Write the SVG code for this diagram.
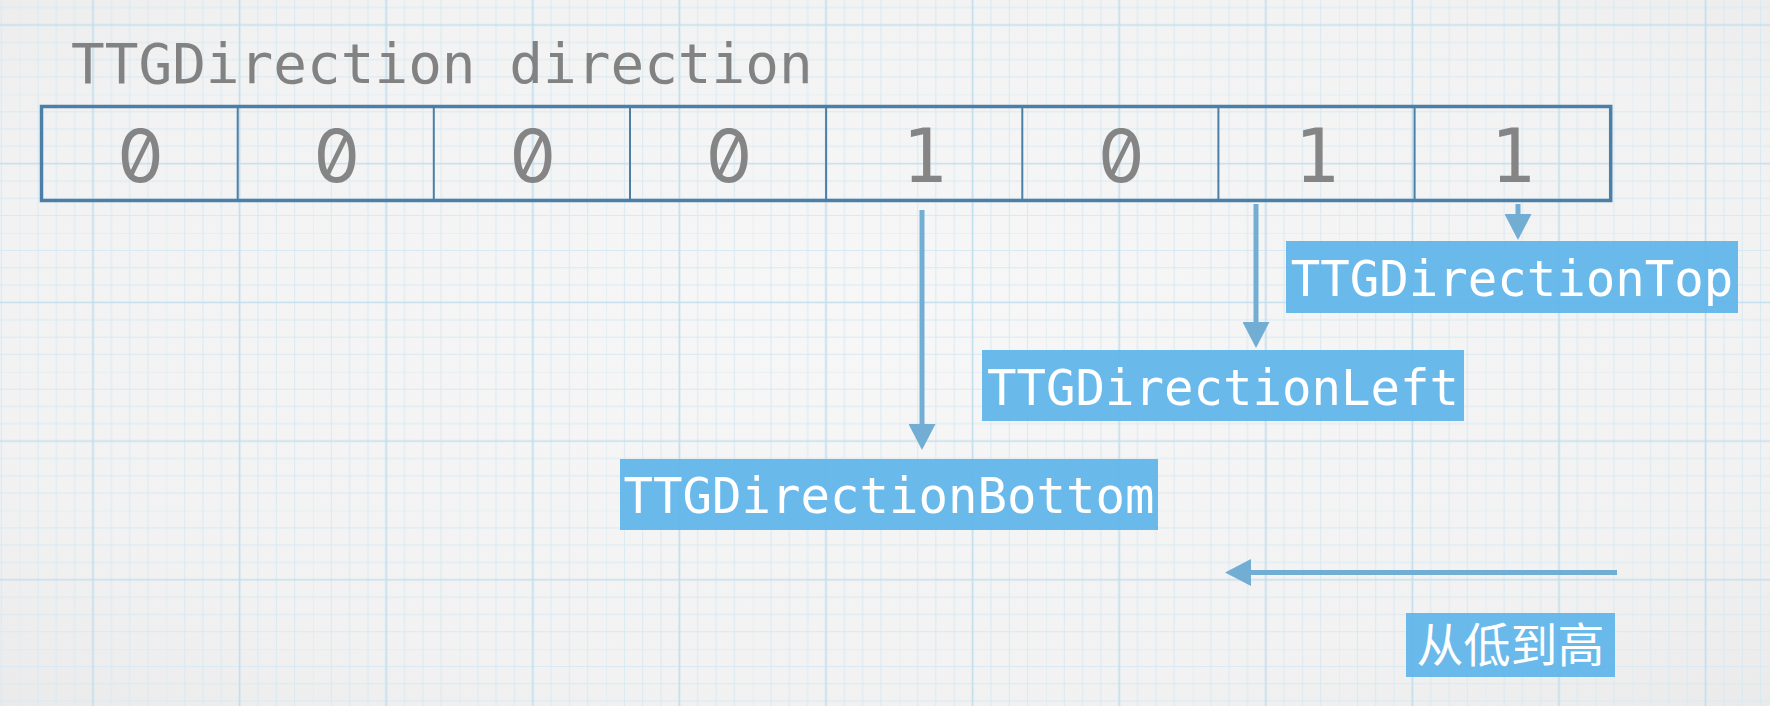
<svg xmlns="http://www.w3.org/2000/svg" width="1770" height="706" viewBox="0 0 1770 706">
  <defs>
    <radialGradient id="paper" cx="50%" cy="45%" r="75%">
      <stop offset="0" stop-color="#f7f7f7"/>
      <stop offset="0.7" stop-color="#f2f2f2"/>
      <stop offset="1" stop-color="#eaeaea"/>
    </radialGradient>
    <pattern id="grid" patternUnits="userSpaceOnUse" x="19.7" y="-44.35" width="146.6" height="138.7">
      <g stroke="#d8e9f2" stroke-width="1">
        <line x1="0" y1="0" x2="0" y2="138.7"/>
        <line x1="18.325" y1="0" x2="18.325" y2="138.7"/>
        <line x1="36.65" y1="0" x2="36.65" y2="138.7"/>
        <line x1="54.975" y1="0" x2="54.975" y2="138.7"/>
        <line x1="91.625" y1="0" x2="91.625" y2="138.7"/>
        <line x1="109.95" y1="0" x2="109.95" y2="138.7"/>
        <line x1="128.275" y1="0" x2="128.275" y2="138.7"/>
        <line x1="0" y1="0" x2="146.6" y2="0"/>
        <line x1="0" y1="17.34" x2="146.6" y2="17.34"/>
        <line x1="0" y1="34.68" x2="146.6" y2="34.68"/>
        <line x1="0" y1="52.01" x2="146.6" y2="52.01"/>
        <line x1="0" y1="86.69" x2="146.6" y2="86.69"/>
        <line x1="0" y1="104.03" x2="146.6" y2="104.03"/>
        <line x1="0" y1="121.36" x2="146.6" y2="121.36"/>
      </g>
      <g stroke="#c2deed" stroke-width="1.7">
        <line x1="73.3" y1="0" x2="73.3" y2="138.7"/>
        <line x1="0" y1="69.35" x2="146.6" y2="69.35"/>
      </g>
    </pattern>
    <marker id="head" markerUnits="userSpaceOnUse" markerWidth="27" markerHeight="27" refX="6" refY="13.5" orient="auto" viewBox="0 0 27 27">
      <path d="M0,0 L26,13.5 L0,27 Z" fill="#72aed3"/>
    </marker>
    <style>
      .title { font-family: "DejaVu Sans Mono", "Liberation Mono", monospace; font-size: 56px; fill: #828282; }
      .bit { font-family: "DejaVu Sans Mono", "Liberation Mono", monospace; font-size: 74px; fill: #858585; text-anchor: middle; }
      .zero { font-family: Inter, "DejaVu Sans Mono", monospace; font-feature-settings: "zero" 1; font-size: 73px; }
      .frame { fill: none; stroke: #4b7fa8; stroke-width: 3.5; }
      .div { stroke: #4b7fa8; stroke-width: 2; }
      .conn { stroke: #72aed3; stroke-width: 5; fill: none; }
      .lbl { fill: #62b5ea; fill-opacity: 0.95; }
      .lbltxt { font-family: "DejaVu Sans Mono", "Liberation Mono", monospace; font-size: 49px; fill: #ffffff; text-anchor: middle; }
      .cjk { font-family: "Noto Sans CJK SC", "Noto Sans", sans-serif; font-size: 47px; fill: #ffffff; text-anchor: middle; }
    </style>
  </defs>

  <rect x="0" y="0" width="1770" height="706" fill="url(#paper)"/>
  <rect x="0" y="0" width="1770" height="706" fill="url(#grid)"/>

  <g id="title">
    <text class="title" x="71" y="83">TTGDirection direction</text>
  </g>

  <g id="bitfield">
    <rect class="frame" x="41.5" y="106.5" width="1569.2" height="94"/>
    <line class="div" x1="237.7" y1="106.5" x2="237.7" y2="200.5"/>
    <line class="div" x1="433.8" y1="106.5" x2="433.8" y2="200.5"/>
    <line class="div" x1="630" y1="106.5" x2="630" y2="200.5"/>
    <line class="div" x1="826.1" y1="106.5" x2="826.1" y2="200.5"/>
    <line class="div" x1="1022.3" y1="106.5" x2="1022.3" y2="200.5"/>
    <line class="div" x1="1218.4" y1="106.5" x2="1218.4" y2="200.5"/>
    <line class="div" x1="1414.6" y1="106.5" x2="1414.6" y2="200.5"/>
    <text class="bit zero" x="140.6" y="181.5">0</text>
    <text class="bit zero" x="336.7" y="181.5">0</text>
    <text class="bit zero" x="532.9" y="181.5">0</text>
    <text class="bit zero" x="729" y="181.5">0</text>
    <text class="bit" x="924.2" y="181.5">1</text>
    <text class="bit zero" x="1121.3" y="181.5">0</text>
    <text class="bit" x="1316.5" y="181.5">1</text>
    <text class="bit" x="1512.6" y="181.5">1</text>
  </g>

  <g id="connectors">
    <line class="conn" x1="922" y1="210" x2="922" y2="430" marker-end="url(#head)"/>
    <line class="conn" x1="1256" y1="204" x2="1256" y2="328" marker-end="url(#head)"/>
    <line class="conn" x1="1518" y1="204" x2="1518" y2="220" marker-end="url(#head)"/>
    <line class="conn" x1="1617" y1="572.5" x2="1245" y2="572.5" marker-end="url(#head)"/>
  </g>

  <g id="label-top">
    <rect class="lbl" x="1286" y="241" width="452" height="72"/>
    <text class="lbltxt" x="1512" y="296">TTGDirectionTop</text>
  </g>
  <g id="label-left">
    <rect class="lbl" x="982" y="350" width="482" height="71"/>
    <text class="lbltxt" x="1223" y="405">TTGDirectionLeft</text>
  </g>
  <g id="label-bottom">
    <rect class="lbl" x="620" y="459" width="538" height="71"/>
    <text class="lbltxt" x="889" y="513">TTGDirectionBottom</text>
  </g>
  <g id="label-order">
    <rect class="lbl" x="1406" y="613" width="209" height="64"/>
    <text class="cjk" x="1510.5" y="662">从低到高</text>
  </g>
</svg>
